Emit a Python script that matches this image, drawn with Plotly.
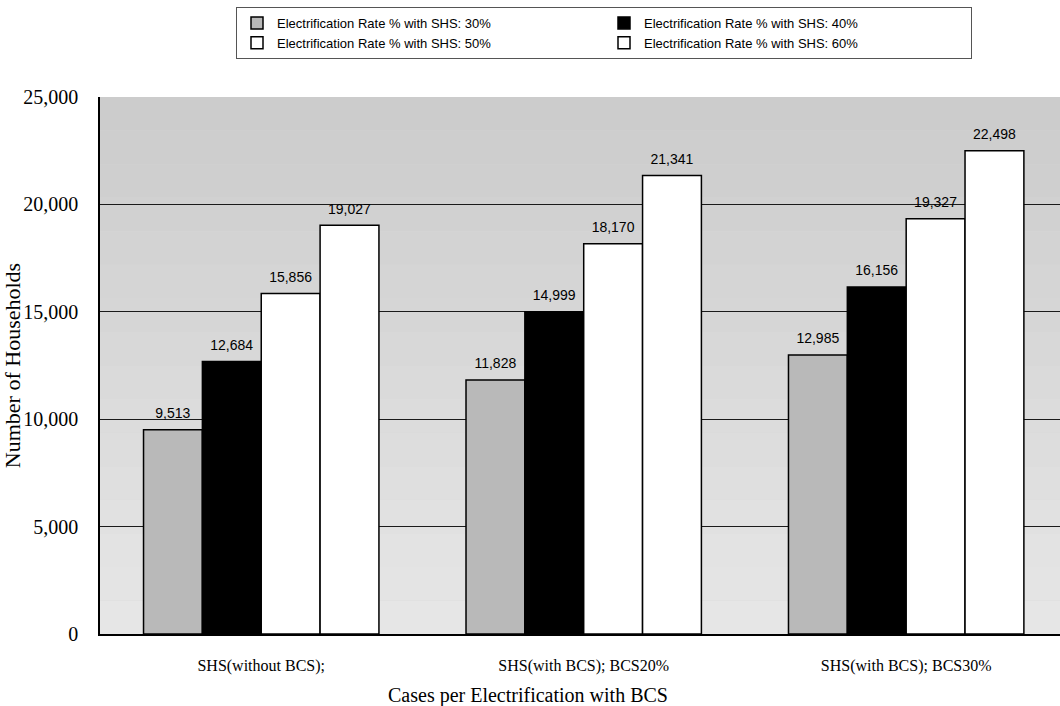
import plotly.graph_objects as go

# Households electrified per case, one series per SHS electrification rate
cases = ["SHS(without BCS);", "SHS(with BCS); BCS20%", "SHS(with BCS); BCS30%"]
series_names = [
    "Electrification Rate % with SHS: 30%",
    "Electrification Rate % with SHS: 40%",
    "Electrification Rate % with SHS: 50%",
    "Electrification Rate % with SHS: 60%",
]
rate_30 = [9513, 11828, 12985]
rate_40 = [12684, 14999, 16156]
rate_50 = [15856, 18170, 19327]
rate_60 = [19027, 21341, 22498]
y_ticks = [0, 5000, 10000, 15000, 20000, 25000]

series_values = [rate_30, rate_40, rate_50, rate_60]
fills = ["#b9b9b9", "#000000", "#ffffff", "#ffffff"]

SERIF = "Liberation Serif, Times New Roman, serif"
SANS = "Liberation Sans, Arial, sans-serif"

fig = go.Figure()
for name, vals, fill in zip(series_names, series_values, fills):
    fig.add_trace(go.Bar(
        x=list(range(len(cases))),
        y=vals,
        name=name,
        marker=dict(color=fill, line=dict(color="#000000", width=1.5)),
        text=vals,
        # a short blank line underneath lifts the value a little off the bar
        texttemplate="<span style='font-size:14px'>%{y:,}</span><br> ",
        textposition="outside",
        constraintext="none",
        textfont=dict(family=SANS, size=6, color="#000000"),
        cliponaxis=False,
    ))

# stippled backdrop: darker toward the top, lighter toward the bottom
n_bands = 16
shapes = []
for i in range(n_bands):
    t = i / (n_bands - 1)
    level = int(round(0xe6 - (0xe6 - 0xcc) * t))
    shapes.append(dict(
        type="rect", xref="paper", yref="paper", x0=0, x1=1,
        y0=i / n_bands, y1=(i + 1) / n_bands,
        fillcolor=f"rgb({level},{level},{level})",
        line=dict(width=0), layer="below",
    ))

fig.update_layout(
    width=1060, height=706,
    margin=dict(l=100, r=0, t=97, b=72),
    paper_bgcolor="#ffffff",
    plot_bgcolor="#d6d6d6",
    barmode="group",
    bargap=0.27,
    bargroupgap=0,
    shapes=shapes,
    showlegend=True,
    legend=dict(
        orientation="h",
        x=(236 - 100) / 960, y=(634 - 7) / 537, xanchor="left", yanchor="top",
        entrywidth=322, entrywidthmode="pixels",
        bgcolor="#ffffff", bordercolor="#555555", borderwidth=1,
        font=dict(family=SANS, size=13, color="#000000"),
        traceorder="normal",
        itemclick=False,
    ),
    xaxis=dict(
        tickmode="array",
        tickvals=list(range(len(cases))),
        ticktext=cases,
        range=[-0.5, 2.477],
        showgrid=False,
        showline=True, linecolor="#000000", linewidth=1.5,
        ticks="",
        ticklabelstandoff=16,
        tickfont=dict(family=SERIF, size=16, color="#000000"),
        automargin=False,
    ),
    yaxis=dict(
        range=[0, 25000],
        tickmode="array",
        tickvals=y_ticks,
        ticktext=[f"{v:,}" for v in y_ticks],
        showgrid=True, gridcolor="#1a1a1a", gridwidth=1,
        zeroline=False,
        showline=True, linecolor="#000000", linewidth=1.5,
        ticks="",
        ticklabelstandoff=16,
        tickfont=dict(family=SERIF, size=20, color="#000000"),
        title=dict(text="Number of Households",
                   font=dict(family=SERIF, size=22, color="#000000"),
                   standoff=10),
        automargin=False,
    ),
    annotations=[dict(
        text="Cases per Electrification with BCS",
        xref="paper", yref="paper",
        x=(528 - 100) / 960, y=(634 - 695) / 537,
        xanchor="center", yanchor="middle", showarrow=False,
        font=dict(family=SERIF, size=20, color="#000000"),
    )],
)

fig.write_html("out.html")
